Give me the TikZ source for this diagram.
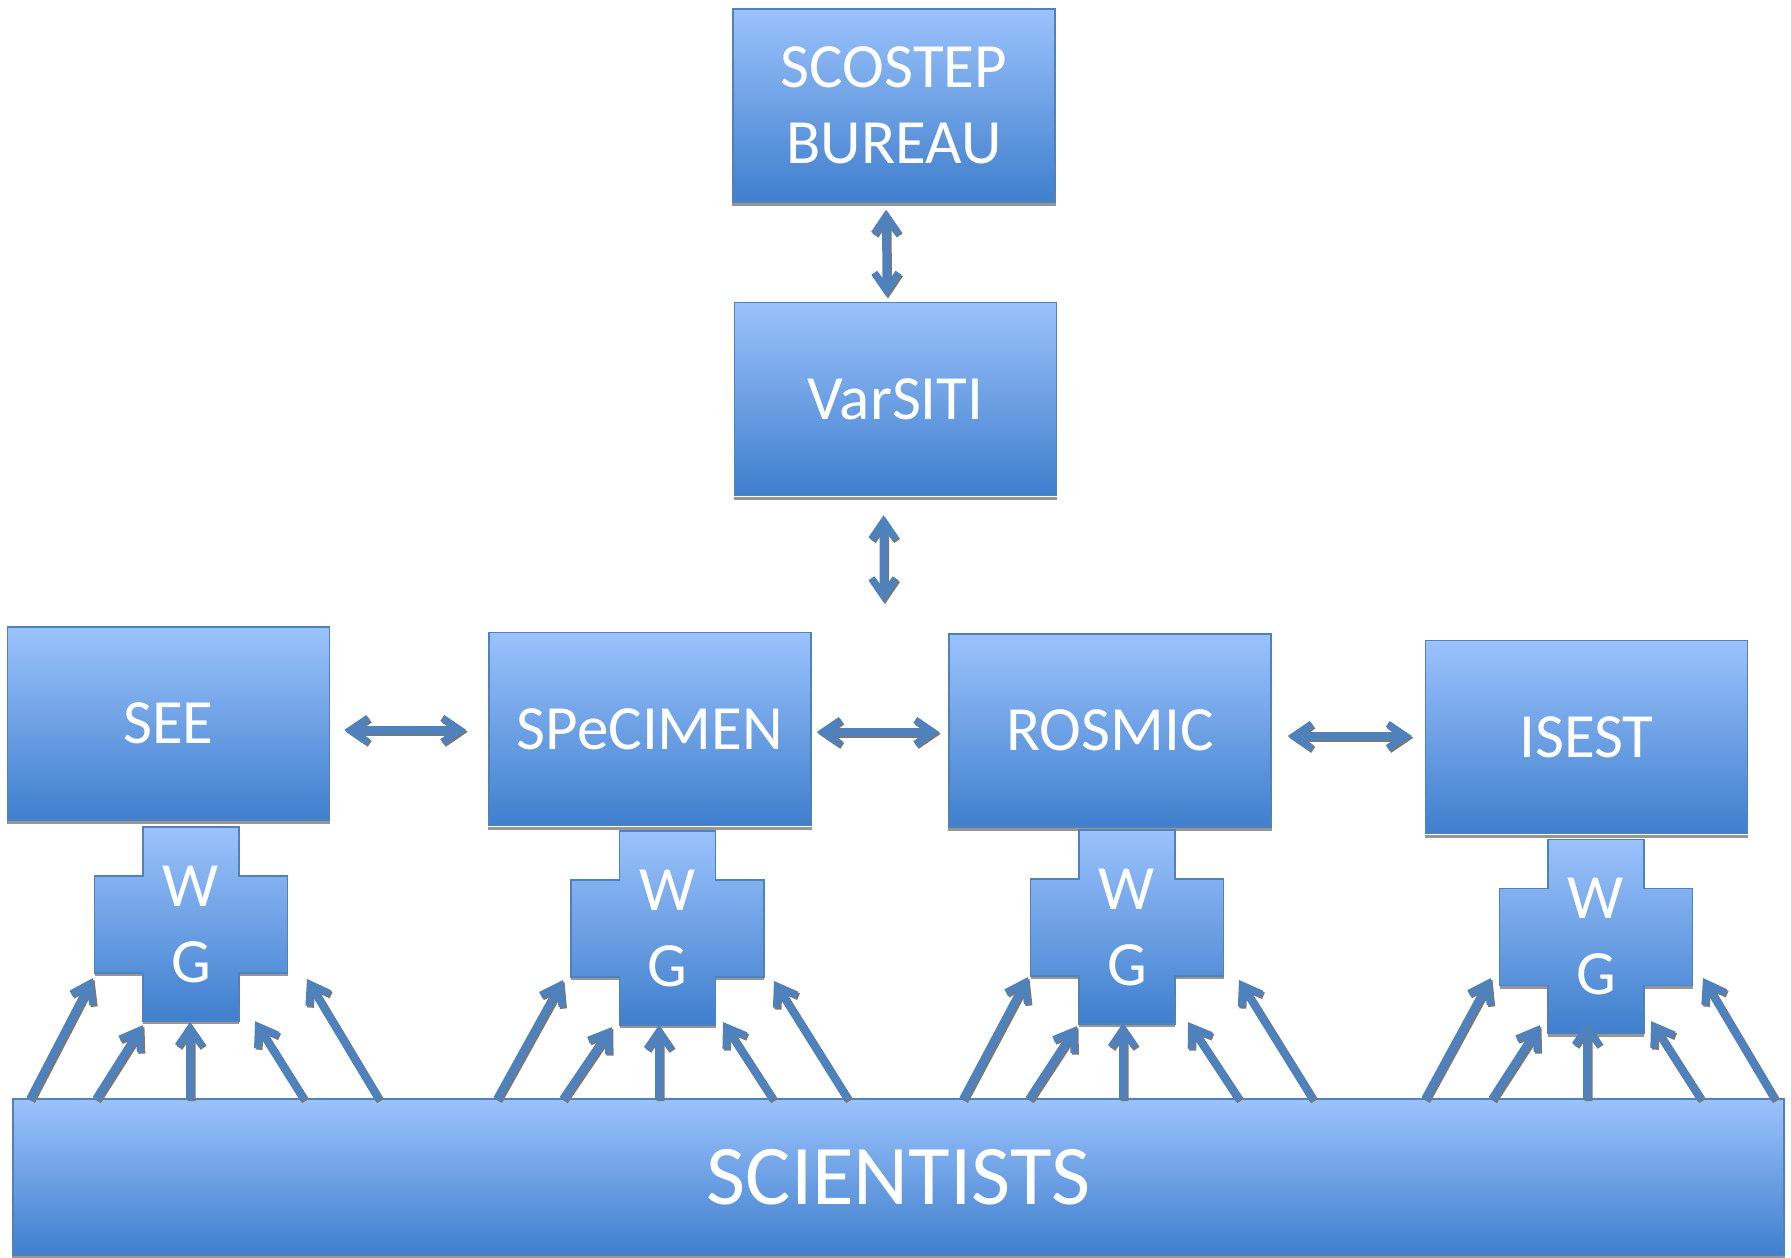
\documentclass[tikz,border=0pt]{standalone}
\usepackage{fontspec}
\setmainfont{Carlito}
\usetikzlibrary{calc}
\definecolor{boxtop}{RGB}{155,194,252}
\definecolor{boxbot}{RGB}{63,127,205}
\definecolor{edgec}{RGB}{79,129,189}
\definecolor{arrowc}{RGB}{79,129,189}
\definecolor{shadc}{RGB}{150,150,150}
\definecolor{arrshad}{RGB}{120,120,120}
\newcommand\wgcross[2]{%
  \begin{scope}[shift={(#1,#2)}]
    \fill[shadc] (-96.5,49) rectangle (96.5,52);
    \fill[shadc] (-48,97) rectangle (48,100);
    \path[crossbox] (-48,-97) -- (48,-97) -- (48,-48) -- (96.5,-48) -- (96.5,49)
      -- (48,49) -- (48,97) -- (-48,97) -- (-48,49) -- (-96.5,49) -- (-96.5,-48)
      -- (-48,-48) -- cycle;
  \end{scope}}
\newcommand\boxshadow[1]{%
  \fill[shadc] ($(#1.south west)+(0,0.5)$) rectangle ($(#1.south east)+(0,3.5)$);}
\newcommand\singlehead{%
  (0,-4) -- ({\falen-18.4},-4) -- ({\falen-26},-9.2)
  -- ({\falen-22},-15) -- (\falen,0) -- ({\falen-22},15)
  -- ({\falen-26},9.2) -- ({\falen-18.4},4) -- (0,4) -- cycle}
\newcommand\doublehead{%
  (0,0) -- (22,-15) -- (26,-9.2) -- (18.4,-4)
  -- ({\falen-18.4},-4) -- ({\falen-26},-9.2) -- ({\falen-22},-15)
  -- (\falen,0) -- ({\falen-22},15) -- ({\falen-26},9.2)
  -- ({\falen-18.4},4) -- (18.4,4) -- (26,9.2) -- (22,15) -- cycle}
\makeatletter
% #1 = 1 single head, 2 double head; #2 start; #3 tip
\newcommand\fatarrow[3]{%
  \path #2 coordinate (fas);
  \path #3 coordinate (fae);
  \pgfpointdiff{\pgfpointanchor{fas}{center}}{\pgfpointanchor{fae}{center}}%
  \edef\fadx{\the\pgf@x}\edef\fady{\the\pgf@y}%
  \pgfmathsetmacro\falen{veclen(\fadx,\fady)}%
  \pgfmathsetmacro\faang{atan2(\fady,\fadx)}%
  \ifnum#1=1\relax\let\fashape\singlehead\else\let\fashape\doublehead\fi
  \begin{scope}[shift={($(fas)+(1.5,1.8)$)}, rotate=\faang, x=1pt, y=1pt]
    \fill[arrshad] \fashape;
  \end{scope}
  \begin{scope}[shift={(fas)}, rotate=\faang, x=1pt, y=1pt]
    \fill[arrowc] \fashape;
  \end{scope}}
\makeatother
\begin{document}
\begin{tikzpicture}[x=1pt,y=-1pt,
  box/.style={draw=edgec, line width=1.5pt, top color=boxtop, bottom color=boxbot,
    minimum width=322pt, minimum height=193pt, inner sep=0pt, text=white,
    font=\fontsize{63}{76}\selectfont, align=center},
  crossbox/.style={draw=edgec, line width=1.5pt, top color=boxtop, bottom color=boxbot},
  wgtext/.style={inner sep=0pt, text=white, font=\fontsize{63}{76}\selectfont, align=center}]
\useasboundingbox (0,0) rectangle (1791,1258);
\fill[white] (0,0) rectangle (1791,1258);

% boxes
\node[box] (scostep) at (894,105.5) {SCOSTEP\\BUREAU};
\node[box] (varsiti) at (895.5,399) {VarSITI};
\node[box] (see) at (168.5,723.5) {SEE};
\node[box] (spec) at (650,729) {SPeCIMEN};
\node[box] (rosmic) at (1110,730.5) {ROSMIC};
\node[box] (isest) at (1586.5,737) {ISEST};
\node[box, minimum width=1771pt, minimum height=156pt, font=\fontsize{85}{100}\selectfont] (sci) at (898.5,1177) {SCIENTISTS};
\foreach \n in {scostep,varsiti,see,spec,rosmic,isest,sci} {\boxshadow{\n}}

% working groups
\wgcross{191}{924}
\wgcross{667.5}{928}
\wgcross{1127}{927}
\wgcross{1596}{936.5}
\node[wgtext] (wg1) at (191,924) {W\\G};
\node[wgtext] (wg2) at (667.5,928) {W\\G};
\node[wgtext] (wg3) at (1127,927) {W\\G};
\node[wgtext] (wg4) at (1596,936.5) {W\\G};

% vertical links
\fatarrow{2}{($(scostep.south)+(-8,7)$)}{($(varsiti.north)+(-9,-5)$)}
\fatarrow{2}{($(varsiti.south)+(-12,19)$)}{($(varsiti.south)+(-12,106)$)}

% horizontal links
\fatarrow{2}{($(see.east |- spec.west)+(14,1)$)}{($(spec.west)+(-22,1)$)}
\fatarrow{2}{($(spec.east |- rosmic.west)+(5,1.5)$)}{($(rosmic.west)+(-9,1.5)$)}
\fatarrow{2}{($(rosmic.east |- isest.west)+(16,-1)$)}{($(isest.west)+(-13,-1)$)}

% scientists to working groups
\fatarrow{1}{($(wg1 |- sci.north)+(-161,1)$)}{($(wg1)+(-98,54)$)}
\fatarrow{1}{($(wg1 |- sci.north)+(-95,1)$)}{($(wg1)+(-48,101)$)}
\fatarrow{1}{($(wg1 |- sci.north)+(-1,1)$)}{($(wg1)+(-1,98)$)}
\fatarrow{1}{($(wg1 |- sci.north)+(113,1)$)}{($(wg1)+(64,97)$)}
\fatarrow{1}{($(wg1 |- sci.north)+(188,1)$)}{($(wg1)+(116,55)$)}

\fatarrow{1}{($(wg2 |- sci.north)+(-170.5,1)$)}{($(wg2)+(-104.5,52)$)}
\fatarrow{1}{($(wg2 |- sci.north)+(-104.5,1)$)}{($(wg2)+(-55.5,99)$)}
\fatarrow{1}{($(wg2 |- sci.north)+(-8.5,1)$)}{($(wg2)+(-8.5,97)$)}
\fatarrow{1}{($(wg2 |- sci.north)+(105.5,1)$)}{($(wg2)+(55.5,94)$)}
\fatarrow{1}{($(wg2 |- sci.north)+(180.5,1)$)}{($(wg2)+(106.5,53)$)}

\fatarrow{1}{($(wg3 |- sci.north)+(-164,1)$)}{($(wg3)+(-99,50)$)}
\fatarrow{1}{($(wg3 |- sci.north)+(-98,1)$)}{($(wg3)+(-50,99)$)}
\fatarrow{1}{($(wg3 |- sci.north)+(-4,1)$)}{($(wg3)+(-4,96)$)}
\fatarrow{1}{($(wg3 |- sci.north)+(112,1)$)}{($(wg3)+(61,95)$)}
\fatarrow{1}{($(wg3 |- sci.north)+(186,1)$)}{($(wg3)+(112,53)$)}

\fatarrow{1}{($(wg4 |- sci.north)+(-171,1)$)}{($(wg4)+(-105,41.5)$)}
\fatarrow{1}{($(wg4 |- sci.north)+(-104,1)$)}{($(wg4)+(-56,88.5)$)}
\fatarrow{1}{($(wg4 |- sci.north)+(-9,1)$)}{($(wg4)+(-9,84.5)$)}
\fatarrow{1}{($(wg4 |- sci.north)+(105,1)$)}{($(wg4)+(55,84.5)$)}
\fatarrow{1}{($(wg4 |- sci.north)+(179,1)$)}{($(wg4)+(107,41.5)$)}
\end{tikzpicture}
\end{document}
